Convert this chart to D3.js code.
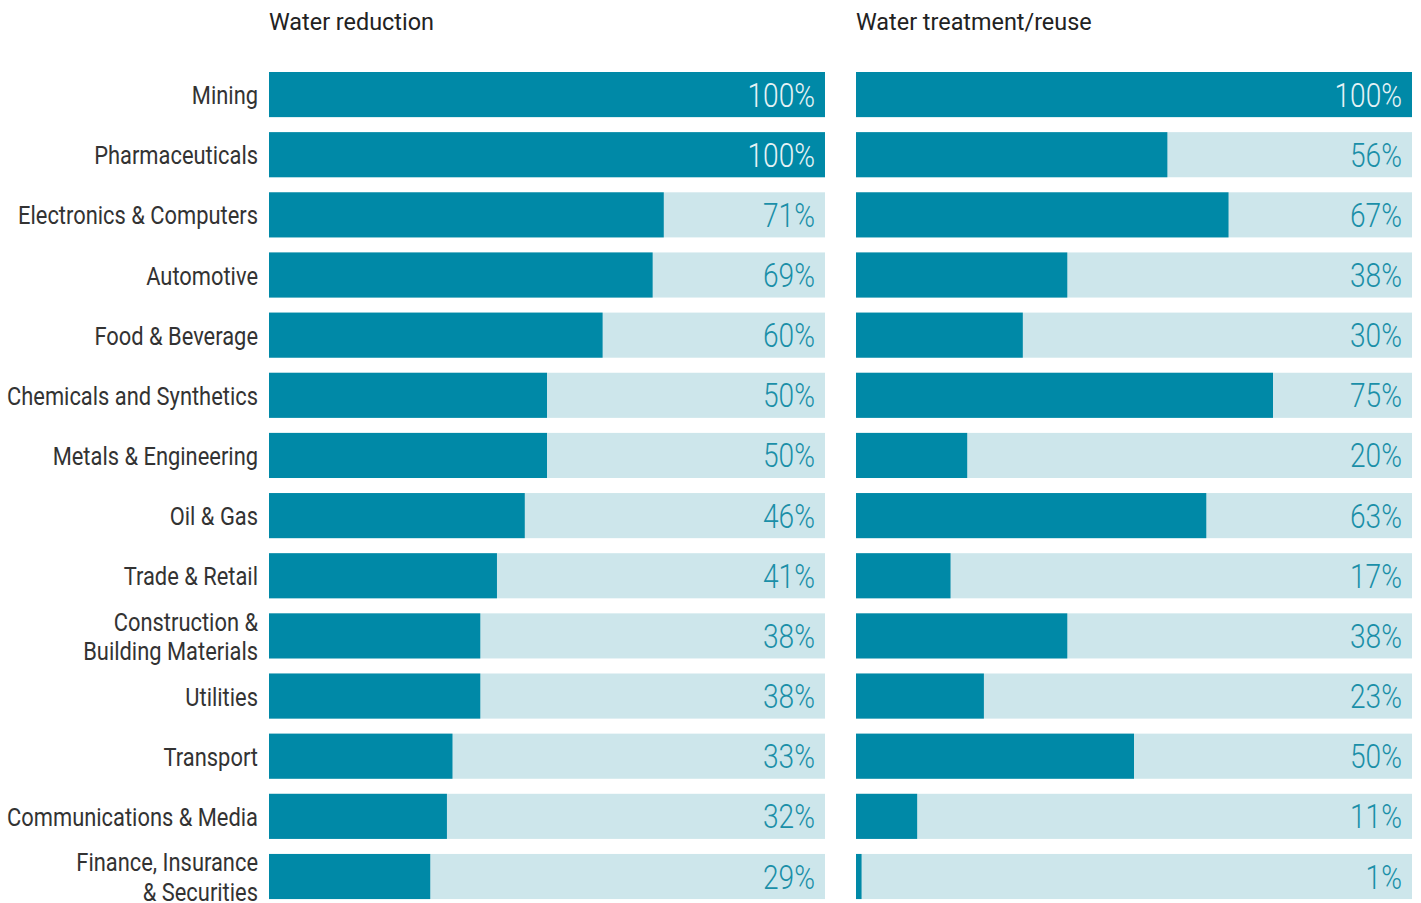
<!DOCTYPE html>
<html><head><meta charset="utf-8">
<script src="https://cdn.jsdelivr.net/npm/d3@7"></script>
<style>
body{margin:0;background:#fff;}
text{font-family:Roboto,"Liberation Sans",sans-serif;}
</style></head>
<body><svg id="c" width="1421" height="903"></svg>
<script>
const categories = ["Mining","Pharmaceuticals","Electronics & Computers","Automotive","Food & Beverage","Chemicals and Synthetics","Metals & Engineering","Oil & Gas","Trade & Retail","Construction &\nBuilding Materials","Utilities","Transport","Communications & Media","Finance, Insurance\n& Securities"];
const waterReduction = [100,100,71,69,60,50,50,46,41,38,38,33,32,29];
const waterTreatment = [100,56,67,38,30,75,20,63,17,38,23,50,11,1];
const panelTitles = ["Water reduction","Water treatment/reuse"];

const svg = d3.select("#c");
const dark = "#0089a7", light = "#cde6eb";

// horizontal squeeze factor to mimic a condensed face
function squeezeFor(sample, size, weight, target) {
  const t = svg.append("text").attr("font-size", size).attr("font-weight", weight).text(sample);
  const w = t.node().getComputedTextLength();
  t.remove();
  return target / w;
}
const labSize = 26.5;
const sLab = squeezeFor("Communications & Media", labSize, 400, 251);
const sVal = squeezeFor("56%", 33, 300, 52);
const sTit = squeezeFor("Water reduction", 23, 400, 165);

const step = 60.15;
const y = d3.scaleBand().domain(categories).range([72, 72 + 14*step]).paddingInner(0.25).paddingOuter(0).align(0);
y.range([72, 72 + 14*step - step*0.25]);

const panels = [
  {title: panelTitles[0], values: waterReduction, x0: 269, x1: 825},
  {title: panelTitles[1], values: waterTreatment, x0: 856, x1: 1412}
];

panels.forEach(p => {
  const x = d3.scaleLinear().domain([0,100]).range([p.x0, p.x1]);
  const g = svg.append("g");
  g.append("text").attr("transform", `translate(${p.x0},30) scale(${sTit},1)`).text(p.title)
    .attr("font-size", 23).attr("fill", "#222");
  g.selectAll("rect.bg").data(categories).join("rect").attr("class","bg")
    .attr("x", x(0)).attr("y", d => y(d)).attr("width", x(100)-x(0)).attr("height", y.bandwidth())
    .attr("fill", light);
  g.selectAll("rect.fg").data(p.values).join("rect").attr("class","fg")
    .attr("x", x(0)).attr("y", (d,i) => y(categories[i])).attr("width", d => x(d)-x(0)).attr("height", y.bandwidth())
    .attr("fill", dark);
  g.selectAll("text.v").data(p.values).join("text").attr("class","v")
    .attr("transform", (d,i) => `translate(${x(100)-10},${y(categories[i]) + y.bandwidth()/2 + 12}) scale(${sVal},1)`)
    .attr("text-anchor","end").attr("font-size", 33).attr("font-weight", 300)
    .attr("fill", d => d >= 98 ? "#e6f3f6" : "#1a8fa8")
    .text(d => d + "%");
});

// category labels
const lab = svg.append("g");
categories.forEach(c => {
  const lines = c.split("\n");
  const cy = y(c) + y.bandwidth()/2;
  const t = lab.append("text").attr("text-anchor","end").attr("font-size", labSize).attr("fill","#333")
    .attr("transform", `translate(258,${cy + 9.5}) scale(${sLab},1)`);
  lines.forEach((l,i) => {
    t.append("tspan").attr("x", 0).attr("y", (i - (lines.length-1)/2)*29.5).text(l);
  });
});
</script></body></html>
